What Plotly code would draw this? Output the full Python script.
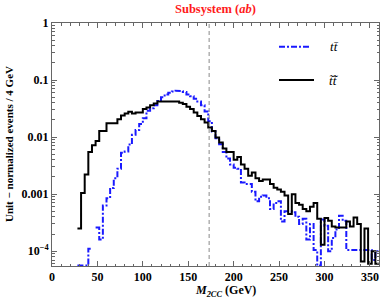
import numpy as np
import plotly.graph_objects as go

# ---------------- data ----------------
BIN_WIDTH = 4  # GeV
bin_lo = list(range(28, 360, BIN_WIDTH))  # lower bin edges (GeV)

FLOOR = 5.6e-5  # bins drawn on the lower frame edge (below plot range)

tt_values = [  # blue, dash-dot : t tbar
    FLOOR, FLOOR, FLOOR, 1.1e-4, None, 2.6e-4, 1.6e-4, 6.3e-4, 8.5e-4, 1.28e-3,
    1.9e-3, 2.8e-3, 5.3e-3, 5.6e-3, 7.4e-3, 0.011, 0.0133, 0.017, 0.0215, 0.029,
    0.032, 0.036, 0.043, 0.050, 0.056, 0.060, 0.063, 0.065, 0.064, 0.062,
    0.056, 0.052, 0.047, 0.042, 0.036, 0.028, 0.019, 0.0125, 0.0095, 0.0075,
    0.0055, 0.0042, 0.0033, 0.0029, 0.0028, 0.0016, 0.0015, 0.0015, 0.0011, 0.00075,
    0.0009, 0.00095, 0.00085, 0.00055, 0.0007, 0.00075, 0.00033, 0.0005, 0.0005, 0.00048,
    0.0004, 0.0003, 0.00037, 0.00016, 0.0003, 0.000105, FLOOR, 0.00036, 0.00028, 0.0001,
    0.00017, 0.00024, 0.00042, 0.00034, 0.000105, 0.000105, 0.000105, 0.000105, 0.000105, 0.000105,
    0.000105, 0.00007, 0.0001,
]

stst_values = [  # black, solid : stop anti-stop
    2.5e-4, 1.05e-3, 2.2e-3, 5.5e-3, 7.2e-3, 8.5e-3, 0.0128, 0.0128, 0.0175, 0.0175,
    0.0175, 0.0205, 0.024, 0.026, 0.0277, 0.026, 0.027, 0.027, 0.031, 0.033,
    0.036, 0.039, 0.042, 0.043, 0.043, 0.043, 0.042, 0.042, 0.040, 0.038,
    0.034, 0.031, 0.027, 0.0235, 0.0206, 0.018, 0.0147, 0.0128, 0.0098, 0.0080,
    0.0063, 0.0055, 0.0055, 0.0040, 0.0045, 0.0033, 0.0028, 0.0021, 0.0024, 0.0019,
    0.0017, 0.0018, 0.0018, 0.0015, 0.0013, 0.0012, 0.0011, 0.00095, 0.00045, 0.0010,
    0.0007, 0.00065, 0.00055, 0.0005, 0.0006, 0.0007, 0.00037, 0.00013, 0.00038, 0.00034,
    0.00027, 0.00026, 0.00026, 0.00026, 0.00033, 0.00027, 0.00039, 0.0003, 0.000066, 0.00025,
    0.00006, 0.0001, 0.00006,
]
assert len(tt_values) == len(bin_lo) == len(stst_values)

x_ticks = [0, 50, 100, 150, 200, 250, 300, 350]
y_tickvals = [1e-4, 1e-3, 1e-2, 1e-1, 1]
y_ticktext = ["10<sup>\u22124</sup>", "0.001", "0.01", "0.1", "1"]
top_mass = 173  # GeV, dashed reference line

labels = ["<i>t</i><i>t\u0304</i>", "<i>t\u0303</i><i>t\u0303\u0304</i>"]


def step_xy(lo_edges, vals, w):
    xs, ys = [], []
    for lo, v in zip(lo_edges, vals):
        if v is None:
            xs.append(None)
            ys.append(None)
        else:
            xs += [lo, lo + w]
            ys += [v, v]
    return xs, ys


# ---------------- figure ----------------
W, H = 382, 305
L, R, T, B = 52, 3, 23, 39
pw, ph = W - L - R, H - T - B

BLUE = "#1a1aff"
FRAME = "#666666"
SERIF = "Liberation Serif"

fig = go.Figure()
xs, ys = step_xy(bin_lo, tt_values, BIN_WIDTH)
fig.add_trace(go.Scatter(x=xs, y=ys, mode="lines", connectgaps=False,
                         line=dict(color=BLUE, width=2, dash="6px,2px,2px,2px"),
                         showlegend=False, hoverinfo="skip"))
xs, ys = step_xy(bin_lo, stst_values, BIN_WIDTH)
fig.add_trace(go.Scatter(x=xs, y=ys, mode="lines", connectgaps=False,
                         line=dict(color="black", width=2),
                         showlegend=False, hoverinfo="skip"))

fig.add_shape(type="line", xref="x", yref="paper", x0=top_mass, x1=top_mass, y0=0, y1=1,
              line=dict(color="#8a8a8a", width=1, dash="4px,3px"))


def px2paper(px, py):
    return (px - L) / pw, (H - B - py) / ph


# legend samples
for (x0p, x1p, yp, col, dash) in [(279, 309, 46.7, BLUE, "6px,2px,2px,2px"),
                                  (279, 314, 80, "black", "solid")]:
    a0, b0 = px2paper(x0p, yp)
    a1, _ = px2paper(x1p, yp)
    fig.add_shape(type="line", xref="paper", yref="paper", x0=a0, x1=a1, y0=b0, y1=b0,
                  line=dict(color=col, width=2, dash=dash))
for lab, (lx, ly) in zip(labels, [(334, 46), (334, 80)]):
    ax, ay = px2paper(lx, ly)
    fig.add_annotation(text=lab, xref="paper", yref="paper", x=ax, y=ay, showarrow=False,
                       xanchor="center", yanchor="middle",
                       font=dict(family=SERIF, size=13, color="black"))

# title
ax, ay = px2paper(215, 9)
fig.add_annotation(text="<b>Subsystem (<i>ab</i>)</b>", xref="paper", yref="paper", x=ax, y=ay,
                   showarrow=False, xanchor="center", yanchor="middle",
                   font=dict(family=SERIF, size=12.5, color="#ff1a1a"))
# x label
ax, ay = px2paper(225, 291)
fig.add_annotation(text="<b><i>M</i><sub><i>2CC</i></sub> (GeV)</b>", xref="paper", yref="paper",
                   x=ax, y=ay, showarrow=False, xanchor="center", yanchor="middle",
                   font=dict(family=SERIF, size=12, color="black"))
# y label
ax, ay = px2paper(9, 144)
fig.add_annotation(text="<b>Unit \u2212 normalized events / 4 GeV</b>", xref="paper", yref="paper",
                   x=ax, y=ay, showarrow=False, xanchor="center", yanchor="middle", textangle=-90,
                   font=dict(family=SERIF, size=11, color="black"))

tickfont = dict(family=SERIF, size=12, color="black", weight="bold")
fig.update_xaxes(range=[0, 360], tickvals=x_ticks, ticks="inside", ticklen=5, tickcolor=FRAME,
                 showline=True, linecolor=FRAME, linewidth=1, mirror="allticks", showgrid=False,
                 zeroline=False, tickfont=tickfont,
                 minor=dict(ticks="inside", ticklen=2.5, dtick=10, tick0=0, tickcolor=FRAME, showgrid=False))
fig.update_yaxes(type="log", range=[np.log10(5.5e-5), 0], tickvals=y_tickvals, ticktext=y_ticktext,
                 ticks="inside", ticklen=5, tickcolor=FRAME,
                 showline=True, linecolor=FRAME, linewidth=1, mirror="allticks", showgrid=False,
                 zeroline=False, tickfont=tickfont,
                 minor=dict(ticks="inside", ticklen=2.5, dtick="D1", tickcolor=FRAME, showgrid=False))

fig.update_layout(width=W, height=H, margin=dict(l=L, r=R, t=T, b=B),
                  plot_bgcolor="white", paper_bgcolor="white", showlegend=False,
                  hovermode=False)

fig.write_html("out.html", config={"displayModeBar": False, "staticPlot": True},
               post_script="document.body.style.margin='0';document.body.style.padding='0';"
                           "document.documentElement.style.overflow='hidden';")
